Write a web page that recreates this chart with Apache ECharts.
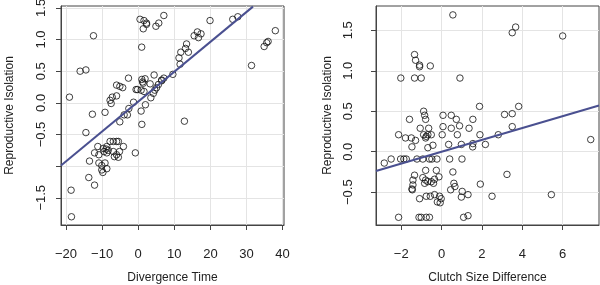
<!DOCTYPE html>
<html>
<head>
<meta charset="utf-8">
<script src="https://cdn.jsdelivr.net/npm/echarts@6/dist/echarts.min.js"></script>
<style>html,body{margin:0;padding:0;background:#fff;}#c{width:600px;height:285px;}</style>
</head>
<body>
<div id="c"></div>
<script>
// Left panel: Divergence Time vs Reproductive Isolation
const leftX = [-19.06,-18.6,-18.5,-16.1,-14.5,-12.4,-14.5,-12.7,-13.5,-13.7,-12.1,-12.1,-11.2,-10.9,-10.9,-10.1,-10.1,-9.8,-9.2,-8.7,-9.2,-9.7,-9.5,-8.9,-8.7,-8.3,-8.7,-7.8,-7.5,-7.2,-6.0,-6.0,-5.1,-4.3,-2.7,-7.8,-6.9,-6.0,-5.5,-6.6,-6.0,-5.5,-5.2,-6.9,-4.1,-5.1,-3.9,-3.0,-2.6,-1.3,-0.8,-0.6,-0.2,0.5,1.6,2.3,2.3,1.4,0.96,4.9,5.7,7.1,1.0,1.2,1.9,1.4,0.8,1.6,0.8,1.0,2.0,3.3,4.4,3.5,4.2,4.6,5.1,5.6,6.5,6.5,7.1,9.6,11.3,11.8,11.6,13.1,13.4,13.9,12.8,15.5,16.4,16.7,17.4,19.9,26.2,27.6,31.4,34.9,35.6,36.0,38.0];
const leftY = [0.09,-1.38,-1.80,0.50,0.52,1.06,-0.47,-0.18,-0.92,-1.18,-1.30,-0.79,-0.69,-0.82,-0.95,-0.99,-1.06,-1.10,-0.95,-1.04,-0.15,-0.72,-0.77,-0.73,-0.69,-0.75,-0.79,0.04,-0.01,0.09,0.11,0.28,0.26,0.24,0.39,-0.61,-0.61,-0.61,-0.61,-0.85,-0.82,-0.86,-0.77,-0.77,-0.69,-0.30,-0.19,-0.19,-0.09,0.01,-0.79,0.21,0.21,1.32,1.30,1.26,1.24,1.17,0.88,1.21,1.26,1.38,0.37,0.33,0.38,0.31,0.20,0.18,-0.13,-0.34,-0.03,0.30,0.44,0.08,0.15,0.20,0.24,0.29,0.35,0.36,0.39,0.45,0.71,0.80,0.61,0.86,0.93,0.80,-0.29,1.06,1.12,1.03,1.09,1.30,1.32,1.36,0.59,0.89,0.95,0.97,1.14];
const leftFit = [[-21.4,-0.99],[31.8,1.52]];
const leftXTicks = [-20,-10,0,10,20,30,40];
const leftYTicks = [-1.5,-1.0,-0.5,0.0,0.5,1.0,1.5];
const leftYLabels = [-1.5,-0.5,0.0,0.5,1.0,1.5];

// Right panel: Clutch Size Difference vs Reproductive Isolation
const rightX = [-2.84,-2.50,-2.13,-2.02,-2.13,-2.03,-1.79,-1.87,-1.75,-1.59,-1.50,-1.47,-1.34,-1.29,-1.34,-1.29,-1.34,-1.42,-1.42,-1.47,-1.45,-1.22,-1.09,-1.09,-1.01,-1.06,-1.09,-1.12,-1.01,-0.93,-0.89,-0.84,-0.79,-0.89,-0.79,-0.76,-0.68,-0.93,-0.79,-0.79,-0.84,-0.68,-0.76,-0.76,-0.60,-0.56,-0.64,-0.68,-0.51,-0.43,-0.60,-0.48,-0.56,-0.51,-0.40,-0.35,-0.26,-0.23,-0.35,-0.21,-0.10,-0.07,-0.02,-0.13,0.03,0.07,0.07,0.35,0.40,0.56,0.48,0.48,0.56,0.45,0.61,0.66,0.73,0.78,0.89,0.91,0.98,1.01,1.02,0.98,1.09,1.31,1.31,1.36,1.54,1.55,1.55,1.88,1.90,1.92,2.17,2.50,2.81,3.12,3.24,3.50,3.50,3.50,3.67,3.82,5.44,6.00,7.39];
const rightY = [-0.14,-0.09,-0.81,0.91,0.21,-0.09,0.17,-0.09,-0.09,0.40,0.17,0.06,1.20,1.13,0.91,0.14,-0.29,-0.35,-0.41,-0.46,-0.47,-0.09,1.07,1.05,0.91,0.29,-0.58,-0.81,-0.81,-0.09,0.50,0.45,0.40,0.21,0.17,0.19,0.21,-0.32,-0.23,-0.35,-0.39,-0.37,-0.55,-0.81,-0.81,1.06,0.29,0.05,0.21,0.08,-0.09,-0.09,-0.55,-0.37,-0.39,-0.34,-0.23,-0.09,-0.53,-0.62,-0.55,-0.63,-0.58,-0.31,0.21,0.31,0.45,0.09,-0.09,1.69,0.45,0.29,-0.25,-0.47,-0.39,-0.43,0.40,0.21,0.32,0.91,0.09,-0.09,-0.49,-0.56,-0.81,-0.79,-0.53,0.29,0.06,0.10,0.40,0.56,0.21,-0.40,0.09,-0.55,0.21,0.46,-0.28,0.47,0.31,1.47,1.54,0.56,-0.53,1.43,0.15];
const rightFit = [[-3.25,-0.238],[7.8,0.571]];
const rightXTicks = [-2,0,2,4,6];
const rightYTicks = [-0.5,0.0,0.5,1.0,1.5];

const pairs = (xs, ys) => xs.map((x, i) => [x, ys[i]]);
const fmt = d => v => (v < 0 ? '\u2212' : '') + Math.abs(v).toFixed(d);

const TXT = '#222';
const FONT = 'Liberation Sans';

function xAxis(grid, min, max, ticks, name, gap) {
  return {
    type: 'value', gridIndex: grid, min: min, max: max,
    name: name, nameLocation: 'middle', nameGap: gap,
    nameTextStyle: {color: TXT, fontSize: 12, fontFamily: FONT},
    axisLine: {show: true, onZero: false, lineStyle: {color: '#444', width: 1}},
    axisTick: {show: true, length: 5, customValues: ticks, lineStyle: {color: '#444'}},
    axisLabel: {customValues: ticks, formatter: fmt(0), color: TXT, fontSize: 13, fontFamily: FONT, margin: 23},
    splitLine: {show: true, lineStyle: {color: '#e4e4e4', width: 1}}
  };
}
function yAxis(grid, min, max, ticks, labels, name, gap, margin) {
  return {
    type: 'value', gridIndex: grid, min: min, max: max,
    name: name, nameLocation: 'middle', nameGap: gap,
    nameTextStyle: {color: TXT, fontSize: 12, fontFamily: FONT},
    axisLine: {show: true, onZero: false, lineStyle: {color: '#444', width: 1}},
    axisTick: {show: true, length: 5, customValues: ticks, lineStyle: {color: '#444'}},
    axisLabel: {customValues: labels, formatter: fmt(1), rotate: 90, color: TXT, fontSize: 13, fontFamily: FONT, margin: margin},
    splitLine: {show: true, lineStyle: {color: '#e4e4e4', width: 1}}
  };
}

const scatterStyle = {color: 'rgba(0,0,0,0)', borderColor: '#111', borderWidth: 1};
const lineStyle = {color: '#4a5090', width: 2};

const chart = echarts.init(document.getElementById('c'), null, {renderer: 'canvas'});
chart.setOption({
  animation: false,
  backgroundColor: '#fff',
  grid: [
    {left: 61, top: 6, width: 223, height: 219, show: true, borderColor: '#444', borderWidth: 1, backgroundColor: 'transparent', containLabel: false, outerBoundsMode: 'none'},
    {left: 376, top: 6, width: 223, height: 219, show: true, borderColor: '#444', borderWidth: 1, backgroundColor: 'transparent', containLabel: false, outerBoundsMode: 'none'}
  ],
  xAxis: [
    xAxis(0, -21.4, 40.4, leftXTicks, 'Divergence Time', 47),
    xAxis(1, -3.25, 7.8, rightXTicks, 'Clutch Size Difference', 47)
  ],
  yAxis: [
    yAxis(0, -1.93, 1.53, leftYTicks, leftYLabels, 'Reproductive Isolation', 45, 13),
    yAxis(1, -0.905, 1.80, rightYTicks, rightYTicks, 'Reproductive Isolation', 42, 21)
  ],
  series: [
    {type: 'scatter', xAxisIndex: 0, yAxisIndex: 0, data: pairs(leftX, leftY), symbol: 'circle', symbolSize: 6.5, itemStyle: scatterStyle},
    {type: 'line', xAxisIndex: 0, yAxisIndex: 0, data: leftFit, showSymbol: false, symbol: 'none', lineStyle: lineStyle, clip: true},
    {type: 'scatter', xAxisIndex: 1, yAxisIndex: 1, data: pairs(rightX, rightY), symbol: 'circle', symbolSize: 6.5, itemStyle: scatterStyle},
    {type: 'line', xAxisIndex: 1, yAxisIndex: 1, data: rightFit, showSymbol: false, symbol: 'none', lineStyle: lineStyle, clip: true}
  ]
});
</script>
</body>
</html>
